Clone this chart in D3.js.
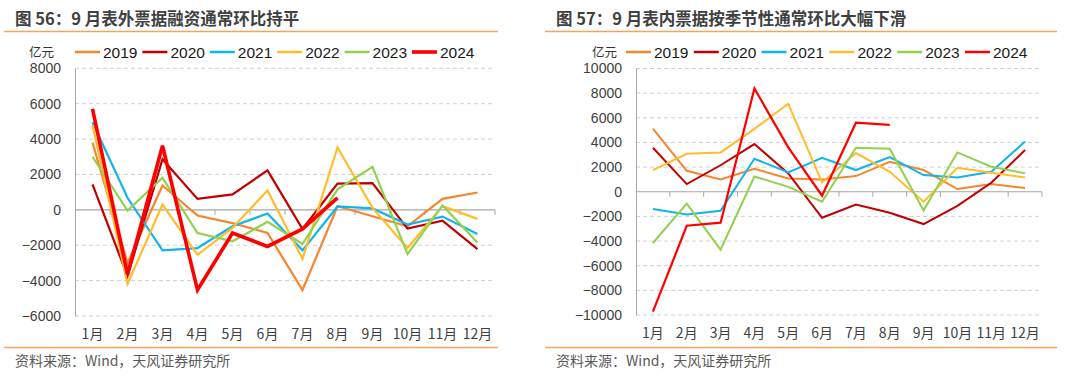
<!DOCTYPE html>
<html>
<head>
<meta charset="utf-8">
<script src="https://cdn.jsdelivr.net/npm/d3@7/dist/d3.min.js"></script>
<style>
	body { margin: 0; background: #fff; }
	svg { display: block; font-family: "Liberation Sans", Arial, "Noto Sans CJK SC", sans-serif; }
	.cjk { font-family: "Noto Sans CJK SC", "Liberation Sans", sans-serif; }
</style>
</head>
<body>
<svg id="chart" width="1080" height="376"></svg>
<script>
// month labels, shared by both panels
var months = ['1月', '2月', '3月', '4月', '5月', '6月', '7月', '8月', '9月', '10月', '11月', '12月'];
var years = ['2019', '2020', '2021', '2022', '2023', '2024'];
var colors = ['#f5862e', '#c00000', '#12b4ec', '#ffbd2e', '#92d050', '#ff0000'];

// 图56 表外票据融资 (亿元)
var off2019 = [3800, -3000, 1380, -320, -750, -1300, -4530, 200, -360, -930, 620, 980];
var off2020 = [1440, -3750, 2860, 620, 870, 2230, -1080, 1480, 1510, -1060, -610, -2220];
var off2021 = [4950, 680, -2290, -2160, -930, -210, -2290, 190, 80, -830, -380, -1370];
var off2022 = [4800, -4190, 300, -2540, -1020, 1100, -2770, 3530, 110, -2160, 210, -510];
var off2023 = [3000, -40, 1820, -1310, -1780, -680, -1930, 1160, 2430, -2500, 250, -1840];
var off2024 = [5700, -3650, 3620, -4530, -1310, -2070, -1080, 680];
var offTicks = [-6000, -4000, -2000, 0, 2000, 4000, 6000, 8000];

// 图57 表内票据 (亿元)
var on2019 = [5130, 1700, 1000, 1860, 1080, 1000, 1270, 2430, 1760, 220, 620, 300];
var on2020 = [3570, 620, 2150, 3870, 1490, -2110, -1030, -1700, -2620, -1140, 730, 3380];
var on2021 = [-1400, -1840, -1540, 2680, 1570, 2760, 1760, 2810, 1350, 1160, 1620, 4080];
var on2022 = [1760, 3080, 3190, 5100, 7140, 760, 3140, 1620, -810, 1950, 1540, 1160];
var on2023 = [-4160, -970, -4700, 1240, 400, -810, 3570, 3490, -1510, 3190, 2030, 1490];
var on2024 = [-9730, -2760, -2510, 8380, 3600, -320, 5600, 5430];
var onTicks = [-10000, -8000, -6000, -4000, -2000, 0, 2000, 4000, 6000, 8000, 10000];

var svg = d3.select('#chart');

var drawPanel = function(cfg) {
	var g = svg.append('g').attr('class', 'panel');

	// title and rules
	g.append('text')
		.attr('class', 'cjk')
		.attr('x', cfg.left + 11)
		.attr('y', 25)
		.attr('font-size', 16.5)
		.attr('font-weight', 'bold')
		.attr('fill', '#404040')
		.text(cfg.title);

	[31.5, 347.5].forEach(function(yy) {
		g.append('line')
			.attr('x1', cfg.left).attr('x2', cfg.right)
			.attr('y1', yy).attr('y2', yy)
			.attr('stroke', '#f4a35e')
			.attr('stroke-width', 1.5);
	});

	g.append('text')
		.attr('class', 'cjk')
		.attr('x', cfg.left + 11)
		.attr('y', 365.5)
		.attr('font-size', 14)
		.attr('fill', '#595959')
		.text('资料来源：Wind，天风证券研究所');

	var x = d3.scaleBand()
		.domain(months)
		.range([cfg.x0, cfg.x1]);

	var y = d3.scaleLinear()
		.domain(cfg.domain)
		.range([cfg.y0, cfg.y1]);

	// dashed grid
	g.selectAll('.grid')
		.data(cfg.ticks.filter(function(t) { return t != 0; }))
		.enter().append('line')
		.attr('class', 'grid')
		.attr('x1', cfg.x0).attr('x2', cfg.x1)
		.attr('y1', function(d) { return y(d); })
		.attr('y2', function(d) { return y(d); })
		.attr('stroke', '#d0d0d0')
		.attr('stroke-dasharray', '4,3');

	// y axis
	var yaxis = d3.axisLeft(y)
		.tickValues(cfg.ticks)
		.tickSize(0)
		.tickPadding(14)
		.tickFormat(function(d) { return d < 0 ? '\u2212' + Math.abs(d) : d; });
	var ya = g.append('g')
		.attr('transform', 'translate(' + cfg.x0 + ',0)')
		.call(yaxis);
	ya.select('.domain').attr('stroke', '#a6a6a6');
	ya.selectAll('text').attr('font-size', 14).attr('fill', '#404040');

	// zero line with ticks at month boundaries
	var bounds = months.map(function(m) { return x(m); }).concat([cfg.x1]);
	g.append('line')
		.attr('x1', cfg.x0).attr('x2', cfg.x1)
		.attr('y1', y(0)).attr('y2', y(0))
		.attr('stroke', '#a6a6a6')
		.attr('stroke-width', 1.2);
	g.selectAll('.xt')
		.data(bounds.slice(1))
		.enter().append('line')
		.attr('class', 'xt')
		.attr('x1', function(d) { return d; })
		.attr('x2', function(d) { return d; })
		.attr('y1', y(0)).attr('y2', y(0) + 5)
		.attr('stroke', '#a6a6a6');

	// month labels along bottom
	var xaxis = d3.axisBottom(x).tickSize(0).tickPadding(0);
	var xa = g.append('g')
		.attr('transform', 'translate(0,' + (cfg.y0 + 10) + ')')
		.call(xaxis);
	xa.select('.domain').remove();
	xa.selectAll('text')
		.attr('class', 'cjk')
		.attr('font-size', 14)
		.attr('fill', '#404040')
		.attr('dy', '0.95em');

	var line = d3.line()
		.x(function(d, i) { return x(months[i]) + x.bandwidth() / 2; })
		.y(function(d) { return y(d); });

	cfg.series.forEach(function(s, i) {
		g.append('path')
			.datum(s)
			.attr('d', line)
			.attr('fill', 'none')
			.attr('stroke', colors[i])
			.attr('stroke-width', cfg.widths[i])
			.attr('stroke-linejoin', 'miter');
	});

	// legend
	g.append('text')
		.attr('class', 'cjk')
		.attr('x', cfg.unitX)
		.attr('y', 57)
		.attr('font-size', 12.5)
		.attr('fill', '#333')
		.text('亿元');

	years.forEach(function(yr, i) {
		var lx = cfg.legX + i * cfg.legStep;
		g.append('line')
			.attr('x1', lx).attr('x2', lx + 25)
			.attr('y1', 52).attr('y2', 52)
			.attr('stroke', colors[i])
			.attr('stroke-width', cfg.legWidths[i]);
		g.append('text')
			.attr('x', lx + 28)
			.attr('y', 57.5)
			.attr('font-size', 15.5)
			.attr('fill', '#1a1a1a')
			.text(yr);
	});
};

drawPanel({
	title: '图 56：9 月表外票据融资通常环比持平',
	left: 4, right: 498,
	x0: 75, x1: 495, y0: 316, y1: 68.3,
	domain: [-6000, 8000], ticks: offTicks,
	series: [off2019, off2020, off2021, off2022, off2023, off2024],
	widths: [2.2, 2.2, 2.2, 2.2, 2.2, 3.6],
	legWidths: [2.5, 2.5, 2.5, 2.5, 2.5, 3.6],
	unitX: 29, legX: 75, legStep: 67.4
});

drawPanel({
	title: '图 57：9 月表内票据按季节性通常环比大幅下滑',
	left: 545, right: 1057,
	x0: 636, x1: 1042, y0: 315, y1: 68.5,
	domain: [-10000, 10000], ticks: onTicks,
	series: [on2019, on2020, on2021, on2022, on2023, on2024],
	widths: [2, 2, 2, 2, 2, 2.2],
	legWidths: [2.5, 2.5, 2.5, 2.5, 2.5, 2.5],
	unitX: 592, legX: 626, legStep: 67.8
});
</script>
</body>
</html>
